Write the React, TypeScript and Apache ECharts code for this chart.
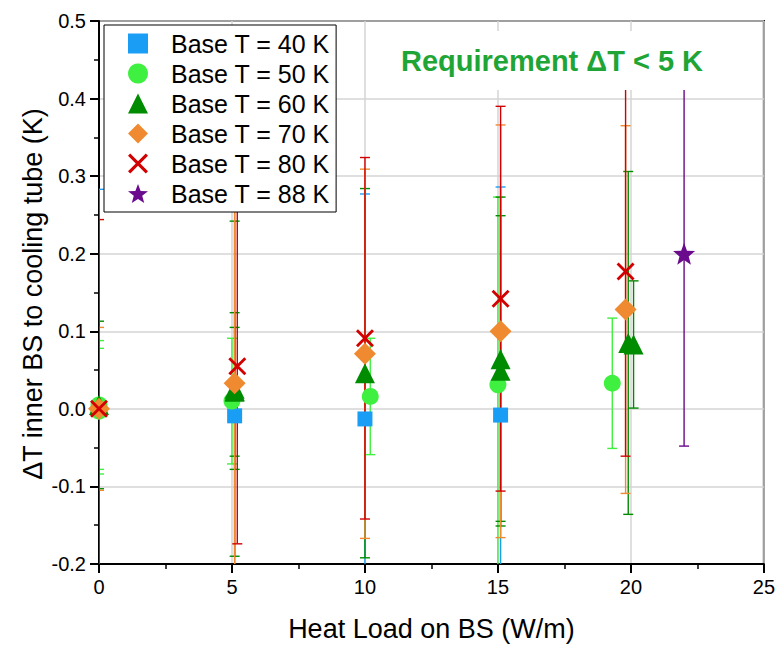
import React, { useEffect, useRef } from "react";
import * as echarts from "echarts";

// ---- Data ----
const seriesNames = ["Base T = 40 K", "Base T = 50 K", "Base T = 60 K", "Base T = 70 K", "Base T = 80 K", "Base T = 88 K"];

const x40 = [0, 5.1, 10.0, 15.1];
const y40 = [0.0, -0.009, -0.013, -0.008];
const e40 = [0.283, 0.28, 0.29, 0.294];

const x50 = [0, 0, 5.0, 10.2, 15.0, 19.3];
const y50 = [0.005, -0.003, 0.01, 0.016, 0.031, 0.033];
const e50 = [0.083, 0.081, 0.081, 0.075, 0.242, 0.084];

const x60 = [0, 5.1, 5.1, 5.1, 10.0, 15.1, 15.1, 19.9, 20.1];
const y60 = [0.005, 0.026, 0.023, 0.022, 0.046, 0.064, 0.049, 0.085, 0.083];
const e60 = [0.108, 0.216, 0.101, 0.083, 0.238, 0.209, 0.2, 0.221, 0.082];

const x70 = [0, 5.1, 10.0, 15.1, 19.8];
const y70 = [0.0, 0.033, 0.071, 0.1, 0.128];
const e70 = [0.105, 0.26, 0.238, 0.266, 0.237];

const x80 = [0, 5.2, 10.0, 15.1, 19.8];
const y80 = [0.0, 0.055, 0.091, 0.142, 0.177];
const e80 = [0.244, 0.229, 0.233, 0.248, 0.238];

const x88 = [22.0];
const y88 = [0.2];
const e88 = [0.248];

const xTicks = [0, 5, 10, 15, 20, 25];
const yTicks = [-0.2, -0.1, 0.0, 0.1, 0.2, 0.3, 0.4, 0.5];

const annotation = "Requirement ΔT < 5 K";
const xTitle = "Heat Load on BS (W/m)";
const yTitle = "ΔT inner BS to cooling tube (K)";

// ---- Styles ----
const colors = ["#1a9ef5", "#40f040", "#008c00", "#f08a30", "#d20000", "#6a0a8c"];
const crossPath = "path://M1,3 L3,1 L10,8 L17,1 L19,3 L12,10 L19,17 L17,19 L10,12 L3,19 L1,17 L8,10 Z";
const starPath = "path://M10,0 L12.5,6.6 L19.5,6.9 L14,11.3 L15.9,18.1 L10,14.3 L4.1,18.1 L6,11.3 L0.5,6.9 L7.5,6.6 Z";
const symbols = ["rect", "circle", "triangle", "diamond", crossPath, starPath];
const symbolSizes = [15, 17, 20, 22, 18, 22];
const FONT = "'Liberation Sans', Arial, sans-serif";

const groups = [
  [x40, y40, e40],
  [x50, y50, e50],
  [x60, y60, e60],
  [x70, y70, e70],
  [x80, y80, e80],
  [x88, y88, e88],
];

function buildSeries() {
  const out: any[] = [];
  groups.forEach((g, i) => {
    const [xs, ys, es] = g;
    const color = colors[i];
    out.push({
      type: "custom",
      name: seriesNames[i] + " err",
      clip: true,
      silent: true,
      data: xs.map((x, k) => [x, ys[k], es[k]]),
      encode: { x: 0, y: 1 },
      renderItem: (params: any, api: any) => {
        const x = api.value(0);
        const y = api.value(1);
        const e = api.value(2);
        const top = api.coord([x, y + e]);
        const bot = api.coord([x, y - e]);
        const w = 5;
        const st = { stroke: color, lineWidth: 1.4 };
        return {
          type: "group",
          children: [
            { type: "line", shape: { x1: top[0], y1: top[1], x2: bot[0], y2: bot[1] }, style: st },
            { type: "line", shape: { x1: top[0] - w, y1: top[1], x2: top[0] + w, y2: top[1] }, style: st },
            { type: "line", shape: { x1: bot[0] - w, y1: bot[1], x2: bot[0] + w, y2: bot[1] }, style: st },
          ],
        };
      },
    });
    out.push({
      type: "scatter",
      name: seriesNames[i],
      symbol: symbols[i],
      symbolSize: symbolSizes[i],
      itemStyle: { color, opacity: 1 },
      clip: true,
      data: xs.map((x, k) => [x, ys[k]]),
    });
  });
  return out;
}

export default function App() {
  const ref = useRef<HTMLDivElement>(null);
  useEffect(() => {
    if (!ref.current) return;
    const chart = echarts.init(ref.current, null, { renderer: "svg" });
    const option: any = {
      animation: false,
      backgroundColor: "#ffffff",
      textStyle: { fontFamily: FONT },
      grid: {
        left: 99,
        right: 12,
        top: 21,
        bottom: 80,
        show: true,
        borderColor: "#000",
        borderWidth: 2,
        backgroundColor: "transparent",
      },
      legend: {
        orient: "vertical",
        left: 104,
        top: 25,
        data: seriesNames.map((n, i) => ({ name: n, icon: symbols[i] })),
        backgroundColor: "#fff",
        borderColor: "#000",
        borderWidth: 1,
        padding: [6, 6, 6, 24],
        itemWidth: 20,
        itemHeight: 20,
        itemGap: 5,
        symbolKeepAspect: true,
        textStyle: { fontSize: 25, color: "#000", fontFamily: FONT, padding: [0, 0, 0, 18], lineHeight: 25 },
        selectedMode: false,
      },
      xAxis: {
        type: "value",
        min: xTicks[0],
        max: xTicks[xTicks.length - 1],
        interval: 5,
        name: xTitle,
        nameLocation: "middle",
        nameGap: 51,
        nameTextStyle: { fontSize: 27, color: "#000", fontFamily: FONT },
        axisLine: { show: true, onZero: false, lineStyle: { color: "#000", width: 2 } },
        axisTick: { show: true, length: 9, lineStyle: { color: "#000", width: 2 } },
        minorTick: { show: true, splitNumber: 2, length: 5, lineStyle: { color: "#000", width: 1.5 } },
        axisLabel: { fontSize: 20, color: "#000", margin: 13, fontFamily: FONT },
        splitLine: { show: true, lineStyle: { color: "#d4d4d4", width: 1.5 } },
      },
      yAxis: {
        type: "value",
        min: yTicks[0],
        max: yTicks[yTicks.length - 1],
        interval: 0.1,
        axisLine: { show: true, onZero: false, lineStyle: { color: "#000", width: 2 } },
        axisTick: { show: true, length: 9, lineStyle: { color: "#000", width: 2 } },
        minorTick: { show: true, splitNumber: 2, length: 5, lineStyle: { color: "#000", width: 1.5 } },
        axisLabel: {
          fontSize: 20,
          color: "#000",
          margin: 13,
          fontFamily: FONT,
          formatter: (v: number) => v.toFixed(1),
        },
        splitLine: { show: true, lineStyle: { color: "#d4d4d4", width: 1.5 } },
      },
      graphic: [
        {
          type: "text",
          left: 395,
          top: 31,
          z: 100,
          style: {
            text: annotation,
            fill: "#1ea536",
            font: "bold 29px " + FONT,
            backgroundColor: "#fff",
            padding: [13, 6, 13, 6],
            lineHeight: 33,
          },
        },
        {
          type: "text",
          x: 33,
          y: 294,
          rotation: Math.PI / 2,
          z: 100,
          style: {
            text: yTitle,
            fill: "#000",
            font: "27px " + FONT,
            align: "center",
            verticalAlign: "middle",
          },
        },
      ],
      series: buildSeries(),
    };
    chart.setOption(option);
    return () => chart.dispose();
  }, []);
  return (
    <div
      ref={ref}
      style={{ position: "fixed", left: 0, top: 0, width: 778, height: 647, background: "#fff" }}
    />
  );
}
